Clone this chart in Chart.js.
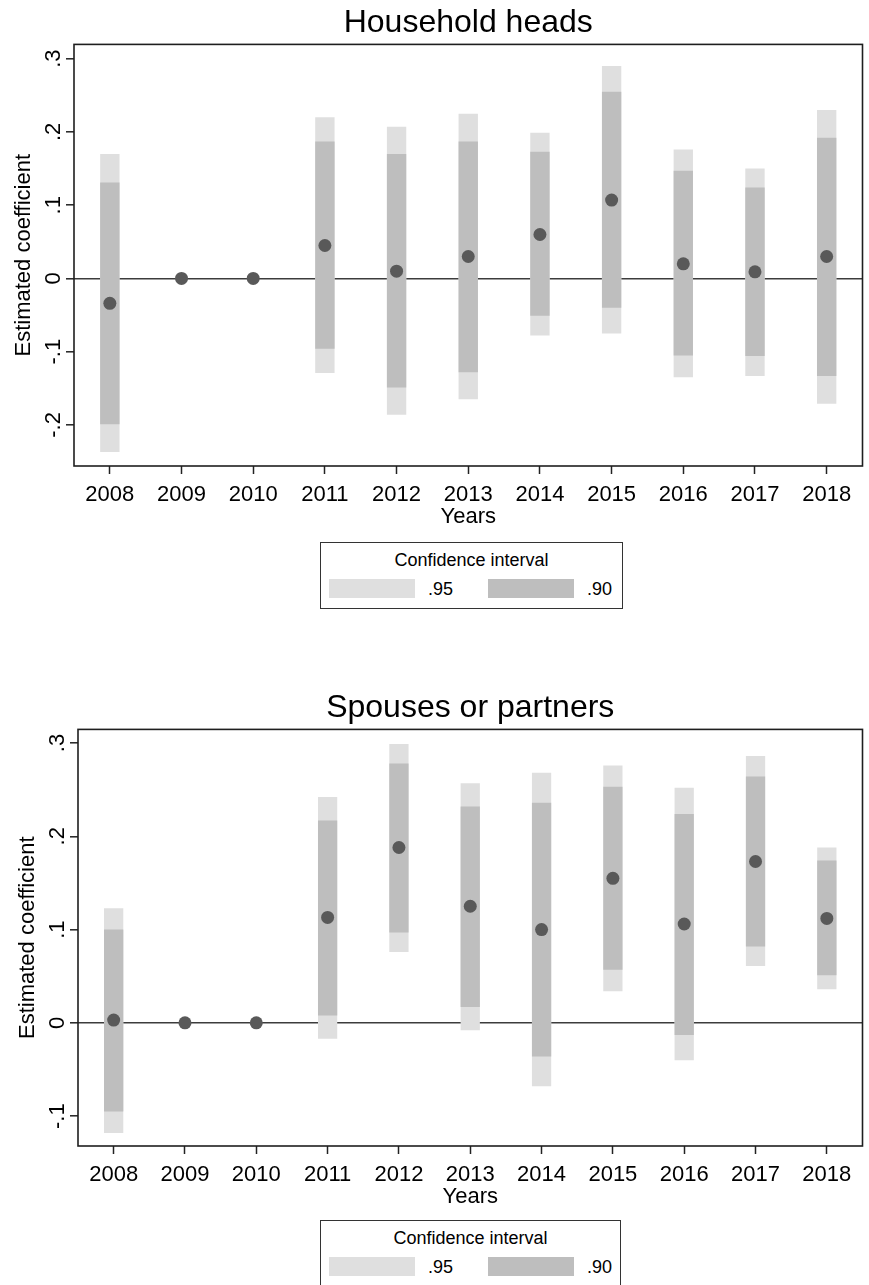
<!DOCTYPE html>
<html>
<head>
<meta charset="utf-8">
<script src="https://cdn.jsdelivr.net/npm/chart.js"></script>
<style>
  body { margin: 0; background: #fff; width: 869px; height: 1285px; position: relative; overflow: hidden;
         font-family: "Liberation Sans", Arial, sans-serif; }
  .wrap { position: absolute; left: 0; width: 869px; }
  .legend { position: absolute; border: 1.5px solid #333; box-sizing: border-box; background: #fff; }
  .legend .ttl { position: absolute; left: 0; right: 0; top: 6px; line-height: 22px; text-align: center; font-size: 18px; color: #000; }
  .legend .sw { position: absolute; top: 36px; width: 86px; height: 19px; }
  .legend .lab { position: absolute; top: 35px; line-height: 22px; font-size: 18px; color: #000; }
</style>
</head>
<body>
<div class="wrap" style="top:0;height:530px"><canvas id="heads"></canvas></div>
<div class="legend" style="left:320px;top:542px;width:303px;height:67px">
  <div class="ttl">Confidence interval</div>
  <div class="sw" style="left:8px;background:#dfdfdf"></div><div class="lab" style="left:107px">.95</div>
  <div class="sw" style="left:167px;background:#bebebe"></div><div class="lab" style="left:266px">.90</div>
</div>
<div class="wrap" style="top:685px;height:525px"><canvas id="spouses"></canvas></div>
<div class="legend" style="left:320px;top:1220px;width:301px;height:67px">
  <div class="ttl">Confidence interval</div>
  <div class="sw" style="left:8px;background:#dfdfdf"></div><div class="lab" style="left:107px">.95</div>
  <div class="sw" style="left:167px;background:#bebebe"></div><div class="lab" style="left:266px">.90</div>
</div>

<script>
const years = ['2008', '2009', '2010', '2011', '2012', '2013', '2014', '2015', '2016', '2017', '2018'];

// household heads
const headsCoef = [-0.034, 0, 0, 0.045, 0.010, 0.030, 0.060, 0.107, 0.020, 0.009, 0.030];
const heads90Lo = [-0.199, null, null, -0.096, -0.149, -0.128, -0.051, -0.040, -0.105, -0.106, -0.133];
const heads90Hi = [0.131, null, null, 0.187, 0.170, 0.187, 0.173, 0.255, 0.147, 0.124, 0.192];
const heads95Lo = [-0.237, null, null, -0.129, -0.186, -0.165, -0.078, -0.075, -0.135, -0.133, -0.171];
const heads95Hi = [0.170, null, null, 0.220, 0.207, 0.225, 0.199, 0.290, 0.176, 0.150, 0.230];
const headsTicks = [-0.2, -0.1, 0, 0.1, 0.2, 0.3];
const headsTickLabels = ['-.2', '-.1', '0', '.1', '.2', '.3'];

// spouses or partners
const spouseCoef = [0.003, 0, 0, 0.113, 0.188, 0.125, 0.100, 0.155, 0.106, 0.173, 0.112];
const spouse90Lo = [-0.095, null, null, 0.008, 0.097, 0.017, -0.036, 0.057, -0.013, 0.082, 0.051];
const spouse90Hi = [0.100, null, null, 0.217, 0.278, 0.232, 0.236, 0.253, 0.224, 0.264, 0.174];
const spouse95Lo = [-0.118, null, null, -0.017, 0.076, -0.008, -0.068, 0.034, -0.040, 0.061, 0.036];
const spouse95Hi = [0.123, null, null, 0.242, 0.299, 0.257, 0.268, 0.276, 0.252, 0.286, 0.188];
const spouseTicks = [-0.1, 0, 0.1, 0.2, 0.3];
const spouseTickLabels = ['-.1', '0', '.1', '.2', '.3'];

Chart.defaults.font.family = '"Liberation Sans", Arial, sans-serif';
Chart.defaults.color = '#000';

function pairs(lo, hi) {
    return lo.map((v, i) => v === null ? null : [v, hi[i]]);
}

// stata style frame + rotated y labels
const frameAndYLabels = {
    id: 'frameAndYLabels',
    afterDraw(chart, args, opts) {
        const ctx = chart.ctx;
        const a = chart.chartArea;
        const y = chart.scales.y;
        ctx.save();
        ctx.strokeStyle = '#1e1e1e';
        ctx.lineWidth = 1.6;
        ctx.strokeRect(a.left, a.top, a.right - a.left, a.bottom - a.top);
        ctx.fillStyle = '#000';
        ctx.font = '22px "Liberation Sans", Arial, sans-serif';
        ctx.textAlign = 'center';
        ctx.textBaseline = 'alphabetic';
        opts.values.forEach((v, i) => {
            ctx.save();
            ctx.translate(a.left - 14, y.getPixelForValue(v));
            ctx.rotate(-Math.PI / 2);
            ctx.fillText(opts.labels[i], 0, 0);
            ctx.restore();
        });
        ctx.restore();
    }
};

function makeChart(id, title, coef, lo90, hi90, lo95, hi95, yMin, yMax, yTicks, yLabels, leftPad, rightPad) {
    new Chart(document.getElementById(id), {
        type: 'bar',
        data: {
            labels: years,
            datasets: [
                {
                    type: 'line',
                    data: coef,
                    showLine: false,
                    pointRadius: 6.5,
                    pointBackgroundColor: '#595959',
                    pointBorderWidth: 0,
                    order: 1
                },
                {
                    data: pairs(lo90, hi90),
                    backgroundColor: '#bebebe',
                    grouped: false,
                    barPercentage: 0.27,
                    categoryPercentage: 1,
                    order: 2
                },
                {
                    data: pairs(lo95, hi95),
                    backgroundColor: '#dfdfdf',
                    grouped: false,
                    barPercentage: 0.27,
                    categoryPercentage: 1,
                    order: 3
                }
            ]
        },
        options: {
            responsive: true,
            maintainAspectRatio: false,
            animation: false,
            layout: { padding: { left: leftPad, right: rightPad, top: 0, bottom: 0 } },
            plugins: {
                legend: { display: false },
                tooltip: { enabled: false },
                title: {
                    display: true,
                    text: title,
                    fullSize: false,
                    color: '#000',
                    font: { size: 32, weight: 'normal' },
                    padding: { top: 4, bottom: 2 }
                },
                frameAndYLabels: { values: yTicks, labels: yLabels }
            },
            scales: {
                x: {
                    offset: true,
                    afterFit: s => { s.height = 64; },
                    grid: { offset: false, drawOnChartArea: false, tickLength: 8, tickColor: '#222', tickWidth: 1.5 },
                    border: { display: false },
                    ticks: { color: '#000', font: { size: 22 }, padding: 8, maxRotation: 0, autoSkip: false },
                    title: { display: true, text: 'Years', color: '#000', font: { size: 22 }, padding: { top: 0, bottom: 0 } }
                },
                y: {
                    min: yMin,
                    max: yMax,
                    afterBuildTicks: s => { s.ticks = yTicks.map(v => ({ value: v })); },
                    afterFit: s => { s.width = 74; },
                    ticks: { display: false },
                    grid: {
                        color: c => (c.tick && c.tick.value === 0) ? '#3c3c3c' : 'rgba(0,0,0,0)',
                        lineWidth: 1.6,
                        tickColor: '#222',
                        tickLength: 8,
                        tickWidth: 1.5
                    },
                    border: { display: false },
                    title: { display: true, text: 'Estimated coefficient', color: '#000', font: { size: 22 }, padding: { top: 11, bottom: 0 } }
                }
            }
        },
        plugins: [frameAndYLabels]
    });
}

makeChart('heads', 'Household heads', headsCoef, heads90Lo, heads90Hi, heads95Lo, heads95Hi,
    -0.256, 0.3195, headsTicks, headsTickLabels, 0, 1);
makeChart('spouses', 'Spouses or partners', spouseCoef, spouse90Lo, spouse90Hi, spouse95Lo, spouse95Hi,
    -0.132, 0.3146, spouseTicks, spouseTickLabels, 4, 6);
</script>
</body>
</html>
